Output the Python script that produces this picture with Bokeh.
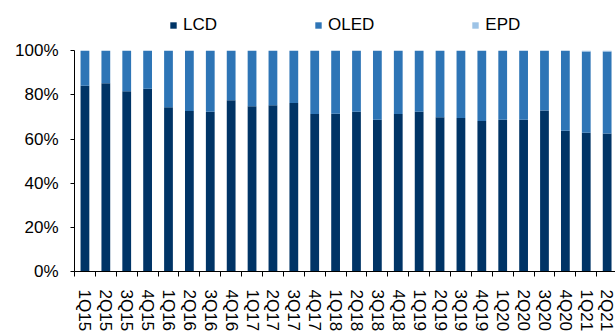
from bokeh.plotting import figure
from bokeh.models import (Range1d, FixedTicker, Legend, LegendItem, PrintfTickFormatter,
                          ColumnDataSource)
from bokeh.embed import file_html
from bokeh.resources import INLINE

quarters = ["1Q15", "2Q15", "3Q15", "4Q15", "1Q16", "2Q16", "3Q16", "4Q16",
            "1Q17", "2Q17", "3Q17", "4Q17", "1Q18", "2Q18", "3Q18", "4Q18",
            "1Q19", "2Q19", "3Q19", "4Q19", "1Q20", "2Q20", "3Q20", "4Q20",
            "1Q21", "2Q21"]
lcd = [84.1, 85.2, 81.6, 82.7, 74.4, 72.7, 72.3, 77.5, 74.8, 75.3, 76.3, 71.3,
       71.4, 72.3, 68.7, 71.3, 72.3, 69.9, 69.5, 68.1, 68.7, 68.7, 72.9, 63.7,
       62.8, 62.5]
oled = [15.9, 14.8, 18.4, 17.3, 25.6, 27.3, 27.7, 22.5, 25.2, 24.7, 23.7, 28.7,
        28.6, 27.7, 31.3, 28.7, 27.7, 30.1, 30.5, 31.9, 31.3, 31.3, 27.1, 36.3,
        36.8, 37.1]
epd = [0, 0, 0, 0, 0, 0, 0, 0, 0, 0, 0, 0,
       0, 0, 0, 0, 0, 0, 0, 0, 0, 0, 0, 0,
       0.4, 0.4]
series = ["LCD", "OLED", "EPD"]
colors = ["#003466", "#2E75B6", "#9DC3E6"]

FONT = "Liberation Sans"
FS = "17px"

xs = list(range(len(quarters)))
src = ColumnDataSource(dict(x=xs, LCD=lcd, OLED=oled, EPD=epd))

# frame spans y=6..276 px; 100% sits at y=51 px, headroom holds the legend
p = figure(width=615, height=334, output_backend="svg", toolbar_location=None,
           x_range=Range1d(-0.5, len(quarters) - 0.6), y_range=Range1d(0, 120),
           min_border_left=74, min_border_right=0, min_border_top=6,
           min_border_bottom=58)
p.outline_line_color = None
p.xgrid.visible = False
p.ygrid.visible = False
p.background_fill_color = "white"
p.border_fill_color = "white"

rs = p.vbar_stack(series, x="x", width=0.42, source=src, color=colors,
                  line_color=None)

# x axis: labels at centres, ticks at boundaries
xa = p.xaxis[0]
xa.ticker = FixedTicker(ticks=xs, minor_ticks=[i - 0.5 for i in range(len(quarters) + 1)])
xa.major_label_overrides = {i: q for i, q in enumerate(quarters)}
xa.major_label_orientation = "vertical"
xa.major_tick_line_color = None
xa.major_tick_out = 0
xa.major_tick_in = 0
xa.minor_tick_line_color = "black"
xa.minor_tick_out = 5
xa.minor_tick_in = 0
xa.major_label_standoff = 13
xa.axis_line_color = "black"
xa.major_label_text_font = FONT
xa.major_label_text_font_size = FS
xa.major_label_text_color = "black"

ya = p.yaxis[0]
ya.ticker = FixedTicker(ticks=[0, 20, 40, 60, 80, 100])
ya.formatter = PrintfTickFormatter(format="%d%%")
ya.bounds = (0, 100)
ya.major_tick_out = 4
ya.major_tick_in = 0
ya.minor_tick_line_color = None
ya.major_label_standoff = 12
ya.axis_line_color = "black"
ya.major_tick_line_color = "black"
ya.major_label_text_font = FONT
ya.major_label_text_font_size = FS
ya.major_label_text_color = "black"

legend = Legend(items=[LegendItem(label=s, renderers=[r]) for s, r in zip(series, rs)],
                orientation="horizontal", location=(95, 236))
legend.glyph_width = 8
legend.glyph_height = 8
legend.label_standoff = 6
legend.spacing = 97
legend.padding = 0
legend.margin = 0
legend.border_line_color = None
legend.background_fill_alpha = 0
legend.label_text_font = FONT
legend.label_text_font_size = FS
legend.label_text_color = "black"
p.add_layout(legend, "center")

open("out.html", "w").write(file_html(p, INLINE))
